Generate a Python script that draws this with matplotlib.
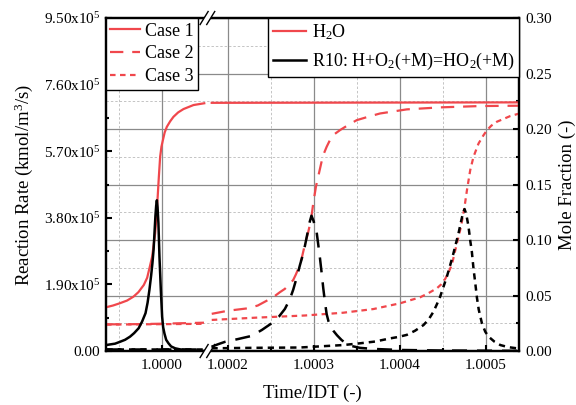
import numpy as np
import matplotlib
matplotlib.use("Agg")
import matplotlib.pyplot as plt
from matplotlib.lines import Line2D
from matplotlib.patches import Polygon
from matplotlib.ticker import FuncFormatter, FormatStrFormatter

plt.rcParams['font.family'] = ['Liberation Serif', 'DejaVu Serif']
plt.rcParams['mathtext.fontset'] = 'custom'
plt.rcParams['mathtext.rm'] = 'Liberation Serif'
plt.rcParams['mathtext.it'] = 'Liberation Serif:italic'
plt.rcParams['mathtext.bf'] = 'Liberation Serif:bold'

RED = '#f0474c'

# time axis is broken between these two values
BREAK_LO, BREAK_HI = 1.000053, 1.000176
XLIM = (0.999935, 1.000539)

x_major = [1.0000, 1.0002, 1.0003, 1.0004, 1.0005]
x_minor = [0.99995, 1.00025, 1.00035, 1.00045]
rate_ticks = [0, 1.9e5, 3.8e5, 5.7e5, 7.6e5, 9.5e5]
rate_minor = [0.95e5, 2.85e5, 4.75e5, 6.65e5, 8.55e5]
frac_ticks = [0.00, 0.05, 0.10, 0.15, 0.20, 0.25, 0.30]
frac_minor = [0.025, 0.075, 0.125, 0.175, 0.225, 0.275]

# Case 1 - H2O mole fraction (left / right of the break)
c1_h2o_xl = [0.999935, 0.9999432, 0.999951, 0.9999596, 0.999967, 0.9999727, 0.999979,
             0.9999829, 0.999986, 0.9999887, 0.9999902, 0.9999922, 0.9999934, 0.9999949,
             0.9999965, 0.999998, 0.9999995, 1.0000012, 1.0000033, 1.0000058, 1.0000097,
             1.0000135, 1.000019, 1.0000252, 1.0000368, 1.0000493]
c1_h2o_yl = [0.0394, 0.0410, 0.0430, 0.0455, 0.0490, 0.0530, 0.0595, 0.0660, 0.0760,
             0.0850, 0.0940, 0.1060, 0.1180, 0.1360, 0.1570, 0.1750, 0.1840, 0.1900,
             0.1970, 0.2020, 0.2070, 0.2110, 0.2150, 0.2180, 0.2216, 0.2232]
c1_h2o_xr = [1.000181, 1.00035, 1.000539]
c1_h2o_yr = [0.2236, 0.2238, 0.2240]

# Case 1 - R10 reaction rate
c1_r10_xl = [0.999935, 0.9999456, 0.999951, 0.9999572, 0.999963, 0.9999677, 0.999973,
             0.999977, 0.999981, 0.9999834, 0.9999855, 0.9999875, 0.999989, 0.9999904,
             0.9999914, 0.9999925, 0.9999934, 0.9999942, 0.999995, 0.999996, 0.9999972,
             0.9999988, 1.0000003, 1.0000015, 1.000003, 1.000005, 1.0000077, 1.0000108,
             1.0000155, 1.0000225, 1.000033, 1.0000493]
c1_r10_yl = [0.17e5, 0.21e5, 0.26e5, 0.32e5, 0.41e5, 0.51e5, 0.65e5, 0.84e5, 1.08e5,
             1.38e5, 1.74e5, 2.15e5, 2.50e5, 2.90e5, 3.36e5, 3.85e5, 4.15e5, 4.30e5,
             4.10e5, 3.64e5, 2.69e5, 1.74e5, 0.98e5, 0.68e5, 0.50e5, 0.32e5, 0.22e5,
             0.13e5, 0.077e5, 0.04e5, 0.02e5, 0.0]
c1_r10_xr = [1.000181, 1.000539]
c1_r10_yr = [0.0, 0.0]

# Case 2 - H2O
c2_h2o_xl = [0.999935, 0.99997, 1.0, 1.000049]
c2_h2o_yl = [0.0240, 0.0242, 0.0246, 0.0255]
c2_h2o_xr = [1.000181, 1.0002, 1.0002233, 1.0002346, 1.0002428, 1.0002524, 1.0002603,
             1.0002661, 1.0002719, 1.0002758, 1.0002789, 1.0002816, 1.0002855, 1.0002894,
             1.0002932, 1.0002964, 1.0002991, 1.0003022, 1.0003057, 1.0003089, 1.0003115,
             1.0003147, 1.0003185, 1.0003224, 1.0003302, 1.0003395, 1.0003497, 1.0003628,
             1.0003768, 1.0004079, 1.0004467, 1.0004934, 1.000539]
c2_h2o_yr = [0.0335, 0.0363, 0.0385, 0.0410, 0.0444, 0.0484, 0.0530, 0.0560, 0.0605,
             0.0640, 0.0690, 0.0740, 0.0830, 0.0960, 0.1070, 0.1180, 0.1330, 0.1480,
             0.1600, 0.1710, 0.1780, 0.1840, 0.1900, 0.1946, 0.1990, 0.2035, 0.2080,
             0.2110, 0.2140, 0.2177, 0.2195, 0.2207, 0.2210]

# Case 2 - R10
c2_r10_xl = [0.999935, 1.000049]
c2_r10_yl = [0.06e5, 0.06e5]
c2_r10_xr = [1.0001807, 1.000188, 1.0001962, 1.0002113, 1.0002273, 1.0002393, 1.0002506,
             1.0002591, 1.0002661, 1.0002719, 1.0002758, 1.0002801, 1.0002836, 1.0002871,
             1.0002894, 1.0002923, 1.0002946, 1.000297, 1.0002993, 1.000303, 1.0003051,
             1.0003069, 1.0003089, 1.0003107, 1.0003127, 1.0003147, 1.0003168, 1.0003191,
             1.0003224, 1.0003267, 1.0003322, 1.0003372, 1.0003442, 1.0003535, 1.0003686,
             1.0004001, 1.0004467, 1.0005388]
c2_r10_yr = [0.12e5, 0.19e5, 0.26e5, 0.34e5, 0.43e5, 0.60e5, 0.79e5, 0.98e5, 1.20e5,
             1.48e5, 1.75e5, 2.12e5, 2.45e5, 2.75e5, 3.00e5, 3.35e5, 3.65e5, 3.86e5,
             3.72e5, 3.40e5, 3.00e5, 2.65e5, 2.22e5, 1.80e5, 1.40e5, 1.05e5, 0.85e5,
             0.70e5, 0.58e5, 0.45e5, 0.31e5, 0.22e5, 0.14e5, 0.09e5, 0.06e5, 0.03e5,
             0.015e5, 0.005e5]

# Case 3 - H2O
c3_h2o_xl = [0.999935, 1.000049]
c3_h2o_yl = [0.0238, 0.0245]
c3_h2o_xr = [1.000181, 1.0002311, 1.0002894, 1.000334, 1.000369, 1.0004001, 1.0004234,
             1.0004328, 1.0004429, 1.0004479, 1.0004526, 1.0004566, 1.0004604, 1.0004662,
             1.0004709, 1.0004747, 1.0004779, 1.0004817, 1.0004855, 1.0004914, 1.0004968,
             1.0005012, 1.0005062, 1.0005128, 1.0005202, 1.0005283, 1.000539]
c3_h2o_yr = [0.028, 0.030, 0.032, 0.0345, 0.0378, 0.043, 0.0484, 0.052, 0.0565, 0.060,
             0.065, 0.071, 0.078, 0.097, 0.112, 0.128, 0.145, 0.163, 0.175, 0.187, 0.194,
             0.199, 0.203, 0.2066, 0.209, 0.2117, 0.214]

# Case 3 - R10
c3_r10_xl = [0.999935, 1.000049]
c3_r10_yl = [0.05e5, 0.05e5]
c3_r10_xr = [1.0001807, 1.0002253, 1.0002836, 1.000334, 1.0003535, 1.000371, 1.0003885,
             1.0003978, 1.0004079, 1.0004176, 1.0004273, 1.0004333, 1.0004389, 1.0004432,
             1.0004467, 1.0004545, 1.0004584, 1.0004622, 1.0004654, 1.0004681, 1.0004706,
             1.0004732, 1.0004751, 1.0004771, 1.0004797, 1.0004817, 1.0004835, 1.0004855,
             1.0004875, 1.0004895, 1.0004916, 1.0004953, 1.0004992, 1.000503, 1.0005097,
             1.0005167, 1.000526, 1.0005361]
c3_r10_yr = [0.077e5, 0.09e5, 0.10e5, 0.17e5, 0.22e5, 0.27e5, 0.36e5, 0.40e5, 0.46e5,
             0.58e5, 0.74e5, 0.90e5, 1.12e5, 1.35e5, 1.55e5, 2.12e5, 2.45e5, 2.79e5,
             3.10e5, 3.36e5, 3.65e5, 3.93e5, 4.05e5, 3.90e5, 3.55e5, 3.15e5, 2.85e5,
             2.35e5, 1.95e5, 1.52e5, 1.18e5, 0.79e5, 0.55e5, 0.41e5, 0.27e5, 0.17e5,
             0.11e5, 0.077e5]

GAP = BREAK_HI - BREAK_LO


def fwd(x):
    x = np.asarray(x, dtype=float)
    out = np.where(x <= BREAK_LO, x, np.where(x >= BREAK_HI, x - GAP, BREAK_LO))
    return np.where(np.isnan(x), np.nan, out)


def inv(u):
    u = np.asarray(u, dtype=float)
    return np.where(u <= BREAK_LO, u, u + GAP)


fig = plt.figure(figsize=(5.76, 4.05), dpi=100)
AX_POS = [0.184, 0.1333, 0.7179, 0.8222]
ax = fig.add_axes(AX_POS)
ax.set_xscale('function', functions=(fwd, inv))
axr = ax.twinx()
ax.set_zorder(axr.get_zorder() + 1)
ax.patch.set_visible(False)

ax.set_xlim(*XLIM)
ax.set_ylim(0, 9.5e5)
axr.set_ylim(0, 0.30)

# grid (drawn on the lower axes so the curves sit on top)
for xv in x_major:
    axr.axvline(xv, color='#8a8a8a', lw=0.9, zorder=0)
for xv in x_minor:
    axr.axvline(xv, color='#c4c4c4', lw=0.7, ls=(0, (2.5, 2)), zorder=0)
axr.set_yticks(frac_ticks)
axr.set_yticks(frac_minor, minor=True)
axr.yaxis.grid(True, which='major', color='#8a8a8a', lw=0.9)
axr.yaxis.grid(True, which='minor', color='#c4c4c4', lw=0.7, ls=(0, (2.5, 2)))
axr.set_axisbelow(True)

styles = {1: '-', 2: (0, (6, 4)), 3: (0, (2.5, 2))}
curves = [
    (1, c1_h2o_xl, c1_h2o_yl, c1_h2o_xr, c1_h2o_yr, c1_r10_xl, c1_r10_yl, c1_r10_xr, c1_r10_yr),
    (2, c2_h2o_xl, c2_h2o_yl, c2_h2o_xr, c2_h2o_yr, c2_r10_xl, c2_r10_yl, c2_r10_xr, c2_r10_yr),
    (3, c3_h2o_xl, c3_h2o_yl, c3_h2o_xr, c3_h2o_yr, c3_r10_xl, c3_r10_yl, c3_r10_xr, c3_r10_yr),
]
for case, hxl, hyl, hxr, hyr, rxl, ryl, rxr, ryr in curves:
    ls = styles[case]
    for xs, ys in ((hxl, hyl), (hxr, hyr)):
        axr.plot(xs, ys, color=RED, lw=1.6, ls=ls, zorder=3)
    for xs, ys in ((rxl, ryl), (rxr, ryr)):
        ax.plot(xs, ys, color='black', lw=1.8, ls=ls, zorder=3)

# ticks
ax.set_xticks(x_major)
ax.set_xticks(x_minor, minor=True)
ax.xaxis.set_major_formatter(FormatStrFormatter('%.4f'))
ax.set_yticks(rate_ticks)
ax.set_yticks(rate_minor, minor=True)
ax.yaxis.set_major_formatter(FuncFormatter(
    lambda v, p: '0.00' if v == 0 else '%.2fx10$^{5}$' % (v / 1e5)))
axr.yaxis.set_major_formatter(FormatStrFormatter('%.2f'))

ax.tick_params(axis='both', which='major', direction='in', length=4.5, width=1.5,
               labelsize=11, pad=4, top=False, right=False)
ax.tick_params(axis='x', which='major', pad=6)
ax.tick_params(axis='both', which='minor', direction='in', length=2.5, width=1.5,
               top=False, right=False)
axr.tick_params(axis='y', which='major', direction='in', length=4.5, width=1.5,
                labelsize=11, pad=4)
axr.tick_params(axis='y', which='minor', direction='in', length=2.5, width=1.5)

for a in (ax, axr):
    for s in a.spines.values():
        s.set_linewidth(1.6)

ax.set_xlabel('Time/IDT (-)', fontsize=13.5, labelpad=9)
ax.set_ylabel('Reaction Rate (kmol/m$^3$/s)', fontsize=13.5, labelpad=6)
axr.set_ylabel('Mole Fraction (-)', fontsize=13.5, labelpad=5)

# legends
case_handles = [Line2D([], [], color=RED, lw=1.6, ls=styles[c]) for c in (1, 2, 3)]
leg1 = ax.legend(case_handles, ['Case 1', 'Case 2', 'Case 3'], loc='upper left',
                 bbox_to_anchor=(0, 1), borderaxespad=0, fancybox=False, framealpha=1,
                 edgecolor='black', fontsize=13, handlelength=1.65, handletextpad=0.25,
                 borderpad=0.25, labelspacing=0.33)
leg1.get_frame().set_linewidth(1.0)
ax.add_artist(leg1)
sp_handles = [Line2D([], [], color=RED, lw=1.6), Line2D([], [], color='black', lw=1.8)]
leg2 = ax.legend(sp_handles, ['H$_2$O', 'R10: H+O$_2$(+M)=HO$_2$(+M)'], loc='upper right',
                 bbox_to_anchor=(1, 1), borderaxespad=0, fancybox=False, framealpha=1,
                 edgecolor='black', fontsize=13, handlelength=1.85, handletextpad=0.3,
                 borderpad=0.26, labelspacing=0.47)
leg2.get_frame().set_linewidth(1.0)

# axis-break marks "//" on top and bottom spines
W, H = 576.0, 405.0
axw, axh = AX_POS[2] * W, AX_POS[3] * H
xb = (fwd(BREAK_LO) - fwd(XLIM[0])) / (fwd(XLIM[1]) - fwd(XLIM[0]))
for y0 in (0.0, 1.0):
    sx, sy = 4.0 / axw, 6.5 / axh
    off = 3.3 / axw
    cover = Polygon([(xb - off - sx * 0.5, y0 - sy * 0.5), (xb - off + sx * 0.5, y0 + sy * 0.5),
                     (xb + off + sx * 0.5, y0 + sy * 0.5), (xb + off - sx * 0.5, y0 - sy * 0.5)],
                    closed=True, transform=ax.transAxes, facecolor='white', edgecolor='none',
                    clip_on=False, zorder=10)
    ax.add_patch(cover)
    for o in (-off, off):
        ax.plot([xb + o - sx, xb + o + sx], [y0 - sy, y0 + sy], color='black', lw=1.0,
                transform=ax.transAxes, clip_on=False, zorder=11)

fig.savefig('out.png', dpi=100)
